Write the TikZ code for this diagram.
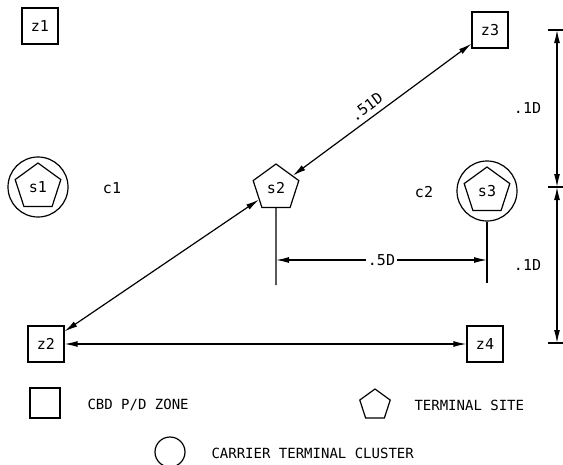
\documentclass[tikz,border=0pt]{standalone}
\usepackage{fontspec}
\setmonofont{DejaVu Sans Mono}
\usetikzlibrary{shapes.geometric, arrows.meta, positioning}

\begin{document}
\begin{tikzpicture}[x=1pt, y=-1pt,
    zone/.style={draw, line width=1.2pt, minimum size=36pt, inner sep=0pt, font=\ttfamily\fontsize{15}{18}\selectfont},
    site/.style={draw, line width=1.2pt, regular polygon, regular polygon sides=5, minimum size=48pt, inner sep=0pt, font=\ttfamily\fontsize{15}{18}\selectfont},
    cluster/.style={draw, line width=1.2pt, circle, minimum size=60pt, inner sep=0pt},
    lbl/.style={font=\ttfamily\fontsize{15}{18}\selectfont},
    key/.style={font=\ttfamily\fontsize{14}{17}\selectfont, anchor=west},
    arrow/.style={<->, >={Latex[length=13pt,width=6pt]}, line width=1.2pt},
    ext/.style={line width=1.2pt}
]
    \useasboundingbox (0,0) rectangle (563,464);

    % zones
    \node[zone] (z1) at (40,26)  {z1};
    \node[zone] (z3) at (490,30) {z3};
    \node[zone] (z2) at (46,344) {z2};
    \node[zone] (z4) at (485,344) {z4};

    % terminal sites and clusters
    \node[cluster] (c1o) at (38,187) {};
    \node[site]    (s1)  at (38,187) {s1};
    \node[lbl]     (c1)  at (112,188) {c1};
    \node[site]    (s2)  at (276,188) {s2};
    \node[cluster] (c2o) at (487,191) {};
    \node[site]    (s3)  at (487,191) {s3};
    \node[lbl]     (c2)  at (424,192) {c2};

    % links
    \draw[arrow] (s2) -- node[lbl, sloped, above=2pt, pos=0.45] {.51D} (z3);
    \draw[arrow] (s2) -- (z2);
    \draw[arrow] (z2) -- (z4);

    % .5D dimension
    \coordinate (e2) at (276,285);
    \coordinate (e3) at (487,283);
    \draw[ext] (s2.south) -- (e2);
    \draw[ext] (c2o.south) -- (e3);
    \coordinate (d2) at (276,260);
    \coordinate (d3) at (487,260);
    \draw[arrow] (d2) -- node[lbl, fill=white, inner sep=2pt] {.5D} (d3);

    % .1D dimensions
    \coordinate (ta) at (548,30);
    \coordinate (tb) at (548,187);
    \coordinate (tc) at (548,343);
    \draw[ext] (ta) -- ++(15,0);
    \draw[ext] (tb) -- ++(15,0);
    \draw[ext] (tc) -- ++(15,0);
    \coordinate (va) at (557,30);
    \coordinate (vb) at (557,187);
    \coordinate (vc) at (557,343);
    \draw[arrow] (va) -- node[lbl, left=12pt] {.1D} (vb);
    \draw[arrow] (vb) -- node[lbl, left=12pt] {.1D} (vc);

    % legend
    \node[draw, line width=1.2pt, minimum size=30pt, inner sep=0pt] (kz) at (45,403) {};
    \node[key] (kzt) at (84,405) {CBD P/D ZONE};
    \node[draw, line width=1.2pt, regular polygon, regular polygon sides=5, minimum size=32pt, inner sep=0pt] (ks) at (375,405) {};
    \node[key] (kst) at (411,405) {TERMINAL SITE};
    \node[draw, line width=1.2pt, circle, minimum size=30pt, inner sep=0pt] (kc) at (170,452) {};
    \node[key] (kct) at (208,453) {CARRIER TERMINAL CLUSTER};
\end{tikzpicture}
\end{document}
